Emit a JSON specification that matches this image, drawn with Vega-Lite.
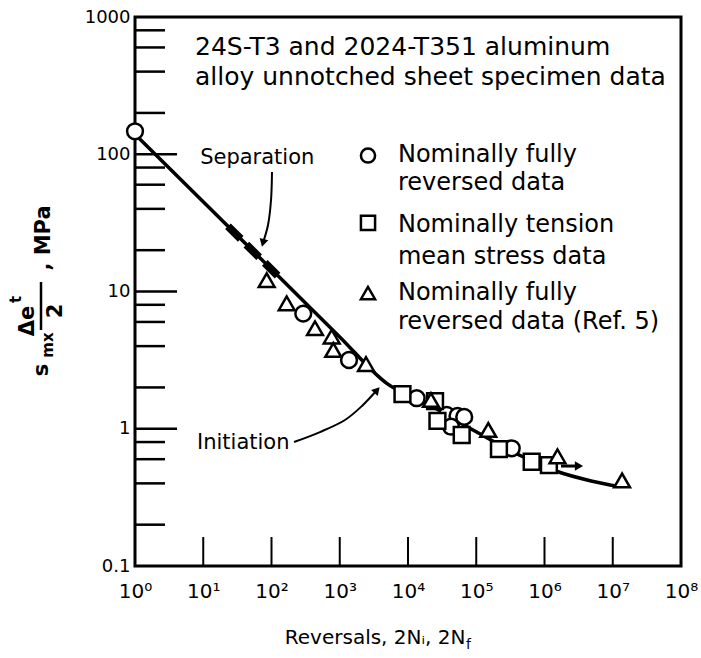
{
  "$schema": "https://vega.github.io/schema/vega-lite/v6.json",
  "width": 546,
  "height": 549,
  "autosize": {"type": "none"},
  "padding": {"left": 135, "top": 17, "right": 20, "bottom": 92},
  "background": "white",
  "config": {"font": "DejaVu Sans", "view": {"stroke": "black", "strokeWidth": 3}},
  "datasets": {
    "pts": [
      {"N": 1, "S": 147, "type": "FR"},
      {"N": 292, "S": 6.9, "type": "FR"},
      {"N": 1367, "S": 3.17, "type": "FR"},
      {"N": 13400, "S": 1.67, "type": "FR"},
      {"N": 36900, "S": 1.26, "type": "FR"},
      {"N": 53100, "S": 1.24, "type": "FR"},
      {"N": 66600, "S": 1.22, "type": "FR"},
      {"N": 42700, "S": 1.035, "type": "FR"},
      {"N": 331000, "S": 0.72, "type": "FR"},
      {"N": 8300, "S": 1.79, "type": "TM"},
      {"N": 24900, "S": 1.59, "type": "TM"},
      {"N": 27000, "S": 1.14, "type": "TM"},
      {"N": 61200, "S": 0.9, "type": "TM"},
      {"N": 215000, "S": 0.71, "type": "TM"},
      {"N": 649000, "S": 0.575, "type": "TM"},
      {"N": 1160000, "S": 0.544, "type": "TM"},
      {"N": 85, "S": 12.1, "type": "R5"},
      {"N": 167, "S": 8.2, "type": "R5"},
      {"N": 434, "S": 5.4, "type": "R5"},
      {"N": 762, "S": 4.69, "type": "R5"},
      {"N": 804, "S": 3.75, "type": "R5"},
      {"N": 2425, "S": 2.96, "type": "R5"},
      {"N": 21700, "S": 1.62, "type": "R5"},
      {"N": 150000, "S": 0.98, "type": "R5"},
      {"N": 1550000, "S": 0.63, "type": "R5"},
      {"N": 13700000, "S": 0.42, "type": "R5"}
    ],
    "curve": [
      {"N": 1, "S": 140},
      {"N": 100, "S": 14.5},
      {"N": 1000, "S": 4.67},
      {"N": 4880, "S": 2.14},
      {"N": 20000, "S": 1.5},
      {"N": 100000, "S": 0.95},
      {"N": 500000, "S": 0.62},
      {"N": 1500000, "S": 0.49},
      {"N": 5000000, "S": 0.415},
      {"N": 12000000, "S": 0.38}
    ],
    "sep": [
      {"N": 23, "S": 29.9},
      {"N": 130, "S": 12.7}
    ],
    "arrows": [
      {"g": "sep", "o": 1, "N": 101.7, "S": 74.3},
      {"g": "sep", "o": 2, "N": 98.4, "S": 46.4},
      {"g": "sep", "o": 3, "N": 88.9, "S": 30.5},
      {"g": "sep", "o": 4, "N": 75, "S": 22.6},
      {"g": "init", "o": 1, "N": 213.6, "S": 0.8},
      {"g": "init", "o": 2, "N": 513, "S": 0.946},
      {"g": "init", "o": 3, "N": 1194, "S": 1.158},
      {"g": "init", "o": 4, "N": 2118, "S": 1.466},
      {"g": "init", "o": 5, "N": 3515, "S": 1.915}
    ],
    "runout": [
      {"N": 1746000, "S": 0.535},
      {"N": 3000000, "S": 0.535}
    ],
    "legpts": [
      {"N": 2594, "S": 97.9, "type": "FR"},
      {"N": 2594, "S": 31.6, "type": "TM"},
      {"N": 2594, "S": 9.75, "type": "R5"}
    ],
    "legtxt": [
      {"N": 7130, "S": 98.8, "t": "Nominally fully"},
      {"N": 7130, "S": 61.7, "t": "reversed data"},
      {"N": 7130, "S": 30.5, "t": "Nominally tension"},
      {"N": 7130, "S": 17.8, "t": "mean stress data"},
      {"N": 7130, "S": 9.75, "t": "Nominally fully"},
      {"N": 7130, "S": 6.0, "t": "reversed data (Ref. 5)"}
    ],
    "ttl": [
      {"N": 7.57, "S": 604, "t": "24S-T3 and 2024-T351 aluminum"},
      {"N": 7.57, "S": 365.6, "t": "alloy unnotched sheet specimen data"}
    ],
    "ann": [
      {"N": 9, "S": 94, "t": "Separation"},
      {"N": 8.1, "S": 0.787, "t": "Initiation"}
    ],
    "sub": [
      {"N": 70790, "S": 0.02655, "t": "f"}
    ],
    "ybig": [
      {"N": 0.04339, "S": 2.679, "t": "s"},
      {"N": 0.02705, "S": 6.097, "t": "Δe"},
      {"N": 0.0696, "S": 7.21, "t": "2"},
      {"N": 0.04642, "S": 24.53, "t": ", MPa"}
    ],
    "ysmall": [
      {"N": 0.05313, "S": 4.074, "t": "mx"},
      {"N": 0.0179, "S": 8.75, "t": "t"}
    ],
    "ybar": [
      {"N": 0.04195, "S": 11.73},
      {"N": 0.04195, "S": 5.24}
    ],
    "ymajor": [{"S": 1}, {"S": 10}, {"S": 100}],
    "yminor": [
      {"S": 0.2}, {"S": 0.4}, {"S": 0.6}, {"S": 0.8},
      {"S": 2}, {"S": 4}, {"S": 6}, {"S": 8},
      {"S": 20}, {"S": 40}, {"S": 60}, {"S": 80},
      {"S": 200}, {"S": 400}, {"S": 600}, {"S": 800}
    ],
    "xmajor": [
      {"N": 10}, {"N": 100}, {"N": 1000}, {"N": 10000},
      {"N": 100000}, {"N": 1000000}, {"N": 10000000}
    ]
  },
  "layer": [
    {
      "data": {"name": "curve"},
      "mark": {"type": "line", "color": "black", "strokeWidth": 3.5, "interpolate": "monotone"},
      "encoding": {
        "x": {
          "field": "N", "type": "quantitative",
          "scale": {"type": "log", "domain": [1, 100000000], "nice": false},
          "axis": {
            "values": [1, 10, 100, 1000, 10000, 100000, 1000000, 10000000, 100000000],
            "labelExpr": "'10' + ['⁰','¹','²','³','⁴','⁵','⁶','⁷','⁸'][round(log(datum.value)/LN10)]",
            "labelFontSize": 20, "labelColor": "black", "labelPadding": 15,
            "labelFlush": false, "labelOverlap": false,
            "ticks": false, "domain": false, "grid": false,
            "title": "Reversals, 2Nᵢ, 2N",
            "titleFontSize": 20, "titleFontWeight": "normal", "titleColor": "black",
            "titleAnchor": "start", "titleAlign": "right", "titleBaseline": "alphabetic",
            "titleX": 330, "titleY": 77
          }
        },
        "y": {
          "field": "S", "type": "quantitative",
          "scale": {"type": "log", "domain": [0.1, 1000], "nice": false},
          "axis": {
            "values": [0.1, 1, 10, 100, 1000],
            "labelExpr": "datum.value < 1 ? '0.1' : format(datum.value, 'd')",
            "labelFontSize": 18, "labelColor": "black", "labelPadding": 5,
            "labelFlush": false, "labelOverlap": false,
            "ticks": false, "domain": false, "grid": false,
            "title": ""
          }
        }
      }
    },
    {
      "data": {"name": "ymajor"},
      "mark": {"type": "rule", "color": "black", "strokeWidth": 2.5},
      "encoding": {
        "x": {"datum": 1, "type": "quantitative", "scale": {"type": "log", "domain": [1, 100000000], "nice": false}},
        "x2": {"datum": 4.13},
        "y": {"field": "S", "type": "quantitative", "scale": {"type": "log", "domain": [0.1, 1000], "nice": false}}
      }
    },
    {
      "data": {"name": "yminor"},
      "mark": {"type": "rule", "color": "black", "strokeWidth": 2.5},
      "encoding": {
        "x": {"datum": 1, "type": "quantitative", "scale": {"type": "log", "domain": [1, 100000000], "nice": false}},
        "x2": {"datum": 2.75},
        "y": {"field": "S", "type": "quantitative", "scale": {"type": "log", "domain": [0.1, 1000], "nice": false}}
      }
    },
    {
      "data": {"name": "xmajor"},
      "mark": {"type": "rule", "color": "black", "strokeWidth": 2},
      "encoding": {
        "x": {"field": "N", "type": "quantitative", "scale": {"type": "log", "domain": [1, 100000000], "nice": false}},
        "y": {"datum": 0.1, "type": "quantitative", "scale": {"type": "log", "domain": [0.1, 1000], "nice": false}},
        "y2": {"datum": 0.1626}
      }
    },
    {
      "data": {"name": "sep"},
      "mark": {"type": "line", "color": "black", "strokeWidth": 8, "strokeDash": [18, 8]},
      "encoding": {
        "x": {"field": "N", "type": "quantitative", "scale": {"type": "log", "domain": [1, 100000000], "nice": false}},
        "y": {"field": "S", "type": "quantitative", "scale": {"type": "log", "domain": [0.1, 1000], "nice": false}}
      }
    },
    {
      "data": {"name": "arrows"},
      "mark": {"type": "line", "color": "black", "strokeWidth": 2, "interpolate": "catmull-rom"},
      "encoding": {
        "x": {"field": "N", "type": "quantitative", "scale": {"type": "log", "domain": [1, 100000000], "nice": false}},
        "y": {"field": "S", "type": "quantitative", "scale": {"type": "log", "domain": [0.1, 1000], "nice": false}},
        "detail": {"field": "g"},
        "order": {"field": "o", "type": "quantitative"}
      }
    },
    {
      "data": {"name": "runout"},
      "mark": {"type": "line", "color": "black", "strokeWidth": 3},
      "encoding": {
        "x": {"field": "N", "type": "quantitative", "scale": {"type": "log", "domain": [1, 100000000], "nice": false}},
        "y": {"field": "S", "type": "quantitative", "scale": {"type": "log", "domain": [0.1, 1000], "nice": false}}
      }
    },
    {
      "data": {"values": [{"N": 75, "S": 22.6}]},
      "mark": {"type": "point", "shape": "triangle-down", "angle": 15, "filled": true, "color": "black", "opacity": 1, "size": 80},
      "encoding": {
        "x": {"field": "N", "type": "quantitative", "scale": {"type": "log", "domain": [1, 100000000], "nice": false}},
        "y": {"field": "S", "type": "quantitative", "scale": {"type": "log", "domain": [0.1, 1000], "nice": false}}
      }
    },
    {
      "data": {"values": [{"N": 3515, "S": 1.915}]},
      "mark": {"type": "point", "shape": "triangle-up", "angle": 42, "filled": true, "color": "black", "opacity": 1, "size": 80},
      "encoding": {
        "x": {"field": "N", "type": "quantitative", "scale": {"type": "log", "domain": [1, 100000000], "nice": false}},
        "y": {"field": "S", "type": "quantitative", "scale": {"type": "log", "domain": [0.1, 1000], "nice": false}}
      }
    },
    {
      "data": {"values": [{"N": 3200000, "S": 0.535}]},
      "mark": {"type": "point", "shape": "triangle-right", "filled": true, "color": "black", "opacity": 1, "size": 90},
      "encoding": {
        "x": {"field": "N", "type": "quantitative", "scale": {"type": "log", "domain": [1, 100000000], "nice": false}},
        "y": {"field": "S", "type": "quantitative", "scale": {"type": "log", "domain": [0.1, 1000], "nice": false}}
      }
    },
    {
      "data": {"name": "pts"},
      "mark": {"type": "point", "fill": "white", "stroke": "black", "strokeWidth": 2.5, "opacity": 1, "fillOpacity": 1, "size": 250},
      "encoding": {
        "x": {"field": "N", "type": "quantitative", "scale": {"type": "log", "domain": [1, 100000000], "nice": false}},
        "y": {"field": "S", "type": "quantitative", "scale": {"type": "log", "domain": [0.1, 1000], "nice": false}},
        "shape": {"field": "type", "type": "nominal", "scale": {"domain": ["FR", "TM", "R5"], "range": ["circle", "square", "triangle-up"]}, "legend": null}
      }
    },
    {
      "data": {"name": "legpts"},
      "mark": {"type": "point", "fill": "white", "stroke": "black", "strokeWidth": 2.5, "opacity": 1, "fillOpacity": 1, "size": 200},
      "encoding": {
        "x": {"field": "N", "type": "quantitative", "scale": {"type": "log", "domain": [1, 100000000], "nice": false}},
        "y": {"field": "S", "type": "quantitative", "scale": {"type": "log", "domain": [0.1, 1000], "nice": false}},
        "shape": {"field": "type", "type": "nominal", "scale": {"domain": ["FR", "TM", "R5"], "range": ["circle", "square", "triangle-up"]}, "legend": null}
      }
    },
    {
      "data": {"name": "legtxt"},
      "mark": {"type": "text", "align": "left", "baseline": "middle", "fontSize": 24, "color": "black"},
      "encoding": {
        "x": {"field": "N", "type": "quantitative", "scale": {"type": "log", "domain": [1, 100000000], "nice": false}},
        "y": {"field": "S", "type": "quantitative", "scale": {"type": "log", "domain": [0.1, 1000], "nice": false}},
        "text": {"field": "t"}
      }
    },
    {
      "data": {"name": "ttl"},
      "mark": {"type": "text", "align": "left", "baseline": "middle", "fontSize": 25, "color": "black"},
      "encoding": {
        "x": {"field": "N", "type": "quantitative", "scale": {"type": "log", "domain": [1, 100000000], "nice": false}},
        "y": {"field": "S", "type": "quantitative", "scale": {"type": "log", "domain": [0.1, 1000], "nice": false}},
        "text": {"field": "t"}
      }
    },
    {
      "data": {"name": "ann"},
      "mark": {"type": "text", "align": "left", "baseline": "middle", "fontSize": 21, "color": "black"},
      "encoding": {
        "x": {"field": "N", "type": "quantitative", "scale": {"type": "log", "domain": [1, 100000000], "nice": false}},
        "y": {"field": "S", "type": "quantitative", "scale": {"type": "log", "domain": [0.1, 1000], "nice": false}},
        "text": {"field": "t"}
      }
    },
    {
      "data": {"name": "sub"},
      "mark": {"type": "text", "align": "left", "baseline": "middle", "fontSize": 14, "color": "black"},
      "encoding": {
        "x": {"field": "N", "type": "quantitative", "scale": {"type": "log", "domain": [1, 100000000], "nice": false}},
        "y": {"field": "S", "type": "quantitative", "scale": {"type": "log", "domain": [0.1, 1000], "nice": false}},
        "text": {"field": "t"}
      }
    },
    {
      "data": {"name": "ybig"},
      "mark": {"type": "text", "align": "center", "baseline": "middle", "angle": 270, "fontSize": 21, "fontWeight": "bold", "color": "black"},
      "encoding": {
        "x": {"field": "N", "type": "quantitative", "scale": {"type": "log", "domain": [1, 100000000], "nice": false}},
        "y": {"field": "S", "type": "quantitative", "scale": {"type": "log", "domain": [0.1, 1000], "nice": false}},
        "text": {"field": "t"}
      }
    },
    {
      "data": {"name": "ysmall"},
      "mark": {"type": "text", "align": "center", "baseline": "middle", "angle": 270, "fontSize": 15, "fontWeight": "bold", "color": "black"},
      "encoding": {
        "x": {"field": "N", "type": "quantitative", "scale": {"type": "log", "domain": [1, 100000000], "nice": false}},
        "y": {"field": "S", "type": "quantitative", "scale": {"type": "log", "domain": [0.1, 1000], "nice": false}},
        "text": {"field": "t"}
      }
    },
    {
      "data": {"name": "ybar"},
      "mark": {"type": "line", "color": "black", "strokeWidth": 2.5},
      "encoding": {
        "x": {"field": "N", "type": "quantitative", "scale": {"type": "log", "domain": [1, 100000000], "nice": false}},
        "y": {"field": "S", "type": "quantitative", "scale": {"type": "log", "domain": [0.1, 1000], "nice": false}}
      }
    }
  ]
}
